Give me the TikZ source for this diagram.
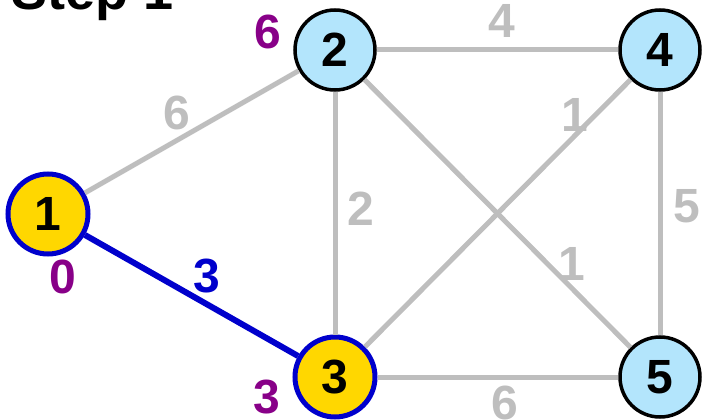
\documentclass[tikz,border=0pt]{standalone}
\usepackage{fontspec}
\setmainfont{Liberation Sans}
\usetikzlibrary{positioning}
\definecolor{cedge}{RGB}{190,190,190}
\definecolor{ctree}{RGB}{0,0,204}
\definecolor{cdist}{RGB}{136,0,136}
\definecolor{cdone}{RGB}{255,215,0}
\definecolor{copen}{RGB}{179,229,252}
\newcommand{\bigbf}[1]{\fontsize{#1}{#1}\selectfont\bfseries}

\begin{document}
\begin{tikzpicture}[x=1pt, y=-1pt,
  vert/.style={circle, draw=black, line width=3.5pt, fill=copen,
    minimum size=80pt, inner sep=0pt, font=\bigbf{48}},
  done/.style={vert, draw=ctree, line width=5pt, fill=cdone},
  link/.style={cedge, line width=5pt},
  taken/.style={ctree, line width=6pt},
  wt/.style={font=\bigbf{48}, inner sep=1pt},
  dist/.style={font=\bigbf{48}, text=cdist, inner sep=0pt}]
\useasboundingbox (0,0) rectangle (705,420);
\node[anchor=base west, font=\bigbf{54}] (title) at (8,10) {Step 1};
% vertices
\node[done] (n1) at (48,214) {1};
\node[vert] (n2) at (335,50) {2};
\node[vert] (n4) at (660,50) {4};
\node[done] (n3) at (335,377) {3};
\node[vert] (n5) at (660,377) {5};
% weighted edges
\draw[link] (n1) -- (n2) node[wt, pos=.43, above=7pt] {6};
\draw[link] (n2) -- (n4) node[wt, pos=.52, above=9pt] {4};
\draw[link] (n2) -- (n3) node[wt, pos=.48, right=9pt] {2};
\draw[link] (n4) -- (n3) node[wt, pos=.21, above=1pt] {1};
\draw[link] (n2) -- (n5) node[wt, pos=.78, above=4pt] {1};
\draw[link] (n4) -- (n5) node[wt, pos=.47, right=10pt] {5};
\draw[link] (n3) -- (n5) node[wt, pos=.53, below=5pt] {6};
\draw[taken] (n1) -- (n3) node[wt, pos=.57, above=7pt] {3};
% tentative distances
\node[dist] (d2) at (268,32) {6};
\node[dist] (d1) at (63,277) {0};
\node[dist] (d3) at (267,397) {3};
\end{tikzpicture}
\end{document}
